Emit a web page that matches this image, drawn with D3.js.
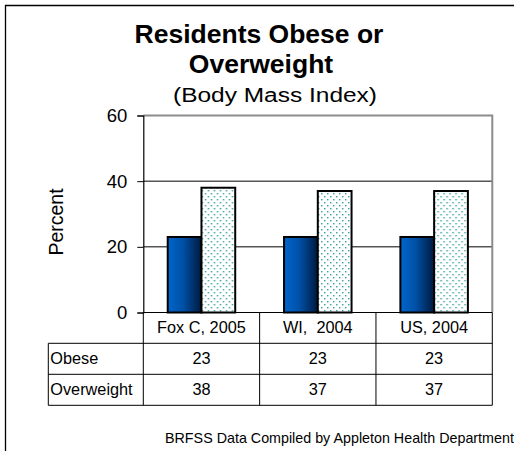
<!DOCTYPE html>
<html>
<head>
<meta charset="utf-8">
<title>Residents Obese or Overweight</title>
<script src="https://cdn.jsdelivr.net/npm/d3@7"></script>
<style>
  html, body { margin: 0; background: #fff; }
  svg { display: block; font-family: "Liberation Sans", Arial, sans-serif; }
</style>
</head>
<body>
<script>
  // data
  var categories = ["Fox C, 2005", "WI,  2004", "US, 2004"];
  var seriesNames = ["Obese", "Overweight"];
  var obese = [23, 23, 23];
  var overweight = [38, 37, 37];
  var yTicks = [0, 20, 40, 60];

  var w = 514, h = 451;
  var plotLeft = 143.3, plotRight = 492.3, plotTop = 115.5, plotBottom = 312.5;

  var svg = d3.select("body").append("svg")
      .attr("width", w)
      .attr("height", h);

  var defs = svg.append("defs");
  var grad = defs.append("linearGradient")
      .attr("id", "blueGrad")
      .attr("x1", "0%").attr("x2", "100%").attr("y1", "0%").attr("y2", "0%");
  grad.append("stop").attr("offset", "0%").attr("stop-color", "#0066cc");
  grad.append("stop").attr("offset", "45%").attr("stop-color", "#0050a6");
  grad.append("stop").attr("offset", "100%").attr("stop-color", "#001a40");

  var pat = defs.append("pattern")
      .attr("id", "dots")
      .attr("patternUnits", "userSpaceOnUse")
      .attr("width", 6).attr("height", 6);
  pat.append("rect").attr("width", 6).attr("height", 6).attr("fill", "#fff");
  pat.append("rect").attr("x", 1).attr("y", 1).attr("width", 1.4).attr("height", 1.4).attr("fill", "#2e9e9a");
  pat.append("rect").attr("x", 4).attr("y", 4).attr("width", 1.4).attr("height", 1.4).attr("fill", "#2e9e9a");

  // outer frame (runs off the right and bottom edges)
  svg.append("path")
      .attr("d", "M5.5," + (h + 2) + "V5.5H" + (w + 2))
      .attr("fill", "none")
      .attr("stroke", "#000")
      .attr("stroke-width", 1.3);

  // titles
  svg.append("text")
      .attr("x", 259).attr("y", 43.3)
      .attr("text-anchor", "middle")
      .attr("font-size", 26.5).attr("font-weight", "bold")
      .text("Residents Obese or");
  svg.append("text")
      .attr("x", 261).attr("y", 73.3)
      .attr("text-anchor", "middle")
      .attr("font-size", 26.5).attr("font-weight", "bold")
      .text("Overweight");
  svg.append("text")
      .attr("x", 275).attr("y", 101.5)
      .attr("text-anchor", "middle")
      .attr("font-size", 20)
      .attr("textLength", 204)
      .attr("lengthAdjust", "spacingAndGlyphs")
      .text("(Body Mass Index)");

  var x = d3.scaleBand().domain(categories).range([plotLeft, plotRight]);
  var y = d3.scaleLinear().domain([0, 60]).range([plotBottom, plotTop]);
  var xs = d3.scaleBand().domain(seriesNames).range([0, 67.5]);

  // gridlines
  svg.append("g").selectAll("line")
      .data(yTicks.filter(function (d) { return d > 0 && d < 60; }))
      .enter().append("line")
      .attr("x1", plotLeft).attr("x2", plotRight)
      .attr("y1", function (d) { return y(d); })
      .attr("y2", function (d) { return y(d); })
      .attr("stroke", "#000").attr("stroke-width", 1);

  // plot border top/right (grey)
  svg.append("path")
      .attr("d", "M" + plotLeft + "," + plotTop + "H" + plotRight + "V" + plotBottom)
      .attr("fill", "none")
      .attr("stroke", "#8c8c8c")
      .attr("stroke-width", 2);

  // bars
  var groups = svg.append("g").selectAll("g")
      .data(categories)
      .enter().append("g")
      .attr("transform", function (d) {
          return "translate(" + (x(d) + x.bandwidth() / 2 - 33.75) + ",0)";
      });

  groups.append("rect")
      .attr("x", xs("Obese"))
      .attr("width", xs.bandwidth())
      .attr("y", function (d, i) { return y(obese[i]); })
      .attr("height", function (d, i) { return plotBottom - y(obese[i]); })
      .attr("fill", "url(#blueGrad)")
      .attr("stroke", "#000").attr("stroke-width", 2);

  groups.append("rect")
      .attr("x", xs("Overweight"))
      .attr("width", xs.bandwidth())
      .attr("y", function (d, i) { return y(overweight[i]); })
      .attr("height", function (d, i) { return plotBottom - y(overweight[i]); })
      .attr("fill", "url(#dots)")
      .attr("stroke", "#000").attr("stroke-width", 2);

  // y axis
  var yAxis = svg.append("g")
      .attr("transform", "translate(" + plotLeft + ",0)")
      .call(d3.axisLeft(y).tickValues(yTicks).tickSize(6).tickPadding(10));
  yAxis.select(".domain").attr("stroke", "#000").attr("stroke-width", 1.2);
  yAxis.selectAll(".tick line").attr("stroke", "#000");
  yAxis.selectAll(".tick text")
      .attr("font-size", 18.5)
      .attr("font-family", "Liberation Sans, Arial, sans-serif")
      .attr("fill", "#000");

  svg.append("text")
      .attr("transform", "translate(63,222) rotate(-90)")
      .attr("text-anchor", "middle")
      .attr("font-size", 19.5)
      .text("Percent");

  // data table
  var rowTop = [plotBottom, 343.3, 374.3, 405.3];
  var labelLeft = 48.3;
  var table = svg.append("g").attr("stroke", "#000").attr("stroke-width", 1);

  table.append("line")
      .attr("x1", plotLeft).attr("x2", plotRight)
      .attr("y1", plotBottom).attr("y2", plotBottom);
  [rowTop[1], rowTop[2], rowTop[3]].forEach(function (yy) {
      table.append("line")
          .attr("x1", labelLeft).attr("x2", plotRight)
          .attr("y1", yy).attr("y2", yy);
  });
  table.append("line")
      .attr("x1", labelLeft).attr("x2", labelLeft)
      .attr("y1", rowTop[1]).attr("y2", rowTop[3]);
  categories.forEach(function (c) {
      table.append("line")
          .attr("x1", x(c)).attr("x2", x(c))
          .attr("y1", plotBottom).attr("y2", rowTop[3]);
  });
  table.append("line")
      .attr("x1", plotRight).attr("x2", plotRight)
      .attr("y1", plotBottom).attr("y2", rowTop[3]);

  var fs = 16.3;
  svg.append("g").selectAll("text")
      .data(categories)
      .enter().append("text")
      .attr("x", function (d) { return x(d) + x.bandwidth() / 2; })
      .attr("y", 333.3)
      .attr("text-anchor", "middle")
      .attr("font-size", fs)
      .style("white-space", "pre")
      .text(function (d) { return d; });

  var rows = [obese, overweight];
  rows.forEach(function (vals, r) {
      var cy = rowTop[r + 1] + 21;
      svg.append("text")
          .attr("x", labelLeft + 2).attr("y", cy)
          .attr("font-size", fs)
          .text(seriesNames[r]);
      svg.append("g").selectAll("text")
          .data(vals)
          .enter().append("text")
          .attr("x", function (d, i) { return x(categories[i]) + x.bandwidth() / 2; })
          .attr("y", cy)
          .attr("text-anchor", "middle")
          .attr("font-size", fs)
          .text(function (d) { return d; });
  });

  // footer
  svg.append("text")
      .attr("x", 165).attr("y", 443.3)
      .attr("font-size", 14.3)
      .text("BRFSS Data Compiled by Appleton Health Department");
</script>
</body>
</html>
